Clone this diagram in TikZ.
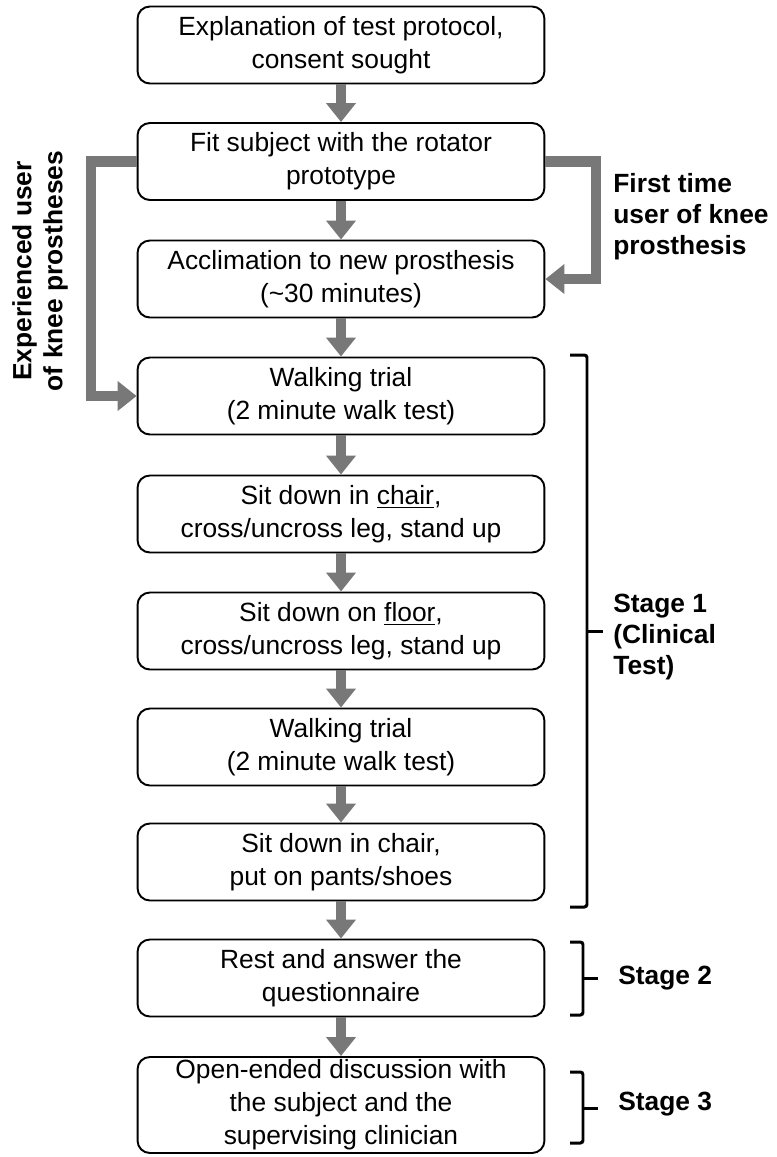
\documentclass[tikz,border=0pt]{standalone}
\usepackage{fontspec}
\setmainfont{Liberation Sans}
\usetikzlibrary{arrows.meta}
\definecolor{flowgray}{gray}{0.47}

\begin{document}
\begin{tikzpicture}[x=0.02cm, y=-0.02cm,
        stagebox/.style={draw=black, line width=1.1pt, rounded corners=7pt,
            minimum width=8.14cm, minimum height=1.54cm, align=center,
            inner sep=0pt, font=\fontsize{15}{18.7}\selectfont},
        flowarrow/.style={draw=flowgray, line width=5.7pt,
            -{Triangle[width=16.4pt, length=10.8pt]}},
        stagebrace/.style={black, line width=1.7pt, rounded corners=1.5pt},
        boldlabel/.style={inner sep=0pt, font=\fontsize{15}{17.6}\selectfont\bfseries}]
            \useasboundingbox (0,0) rectangle (777,1157);

            % Cajas
            \node[stagebox] (expl) at (341,45) {Explanation of test protocol,\\consent sought};
            \node[stagebox] (fit) at (341,161.5) {Fit subject with the rotator\\prototype};
            \node[stagebox] (accl) at (341,279) {Acclimation to new prosthesis\\(\textasciitilde30 minutes)};
            \node[stagebox] (walkA) at (341,396) {Walking trial\\(2 minute walk test)};
            \node[stagebox] (chair) at (341,514) {Sit down in \underline{chair},\\cross/uncross leg, stand up};
            \node[stagebox] (floor) at (341,631) {Sit down on \underline{floor},\\cross/uncross leg, stand up};
            \node[stagebox] (walkB) at (341,747) {Walking trial\\(2 minute walk test)};
            \node[stagebox] (pants) at (341,862) {Sit down in chair,\\put on pants/shoes};
            \node[stagebox] (rest) at (341,978) {Rest and answer the\\questionnaire};
            \node[stagebox, minimum height=1.92cm] (talk) at (341,1105) {Open-ended discussion with\\the subject and the\\supervising clinician};

            % Flechas
            \foreach \a/\b in {expl/fit, fit/accl, accl/walkA, walkA/chair, chair/floor,
                    floor/walkB, walkB/pants, pants/rest, rest/talk}
                \draw[flowarrow] (\a) -- (\b);
            % Atajos a los lados
            \draw[flowarrow] (fit.west) -- ++(-46,0) |- (walkA.west);
            \draw[flowarrow] (fit.east) -- ++(51,0) |- (accl.east);

            % Textos laterales
            \node[boldlabel, rotate=90, align=center] (expuser) at (40,271) {Experienced user\\of knee prostheses};
            \node[boldlabel, anchor=west, align=left] (firsttime) at (613,217) {First time\\user of knee\\prosthesis};

            % Corchetes
            % Stage 1
            \draw[stagebrace] (570,355) -- (587,355) -- (587,907) -- (570,907);
            \draw[stagebrace] (587,631) -- (603,631);
            \node[boldlabel, anchor=west, align=left] (stageA) at (613,637) {Stage 1\\(Clinical\\Test)};
            % Stage 2
            \draw[stagebrace] (570,942) -- (583,942) -- (583,1015) -- (570,1015);
            \draw[stagebrace] (583,978) -- (598,978);
            \node[boldlabel, anchor=west] (stageB) at (618,978) {Stage 2};
            % Stage 3
            \draw[stagebrace] (570,1072) -- (583,1072) -- (583,1143) -- (570,1143);
            \draw[stagebrace] (583,1108) -- (598,1108);
            \node[boldlabel, anchor=west] (stageC) at (618,1104) {Stage 3};
        \end{tikzpicture}
\end{document}
